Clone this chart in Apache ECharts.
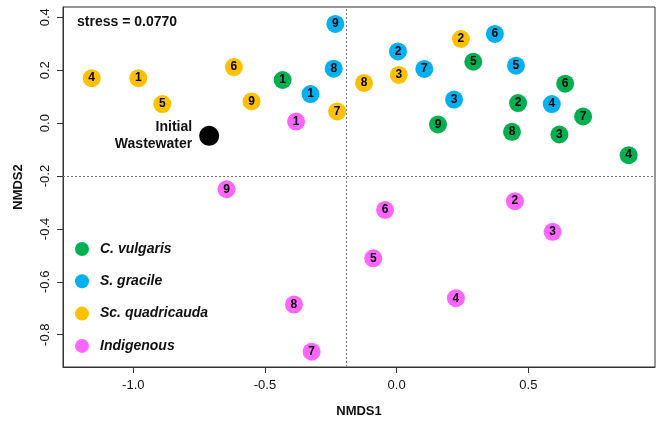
<!DOCTYPE html>
<html>
<head>
<meta charset="utf-8">
<script src="https://cdn.jsdelivr.net/npm/echarts@6/dist/echarts.min.js"></script>
<style>html,body{margin:0;padding:0;background:#fff;}#c{width:660px;height:421px;}</style>
</head>
<body>
<div id="c"></div>
<script>
const groupNames = ['C. vulgaris', 'S. gracile', 'Sc. quadricauda', 'Indigenous'];
const groupColors = ['#00B050', '#00B0F0', '#FFC000', '#FF66FF'];
const sampleLabels = ['1','2','3','4','5','6','7','8','9'];
const cvX = [-0.433, 0.461, 0.618, 0.881, 0.291, 0.640, 0.708, 0.438, 0.157];
const cvY = [0.163, 0.076, -0.043, -0.121, 0.232, 0.149, 0.025, -0.033, -0.005];
const sgX = [-0.327, 0.005, 0.218, 0.589, 0.453, 0.373, 0.105, -0.239, -0.233];
const sgY = [0.110, 0.271, 0.089, 0.072, 0.217, 0.337, 0.205, 0.206, 0.375];
const sqX = [-0.981, 0.244, 0.008, -1.158, -0.890, -0.618, -0.226, -0.124, -0.551];
const sqY = [0.170, 0.318, 0.182, 0.170, 0.072, 0.212, 0.044, 0.152, 0.082];
const inX = [-0.382, 0.449, 0.592, 0.225, -0.089, -0.044, -0.323, -0.390, -0.646];
const inY = [0.006, -0.295, -0.411, -0.662, -0.511, -0.328, -0.864, -0.686, -0.250];
const initialPoint = [-0.712, -0.048];
const refLineX = -0.188;
const refLineY = -0.197;
const xTicks = [-1.0, -0.5, 0.0, 0.5];
const yTicks = [-0.8, -0.6, -0.4, -0.2, 0.0, 0.2, 0.4];
const stressText = 'stress = 0.0770';

const groupXs = [cvX, sgX, sqX, inX];
const groupYs = [cvY, sgY, sqY, inY];
const FONT = '"Liberation Sans", Arial, sans-serif';

const series = groupNames.map((name, g) => ({
  name: name,
  type: 'scatter',
  symbol: 'circle',
  symbolSize: 18,
  itemStyle: { color: groupColors[g], opacity: 1 },
  label: {
    show: true, position: 'inside',
    formatter: p => p.value[2],
    color: '#000', fontWeight: 'bold', fontSize: 12, fontFamily: FONT
  },
  emphasis: { disabled: true },
  data: groupXs[g].map((x, i) => [x, groupYs[g][i], sampleLabels[i]]),
  z: 3
}));

series.push({
  name: 'Initial Wastewater',
  type: 'scatter',
  symbolSize: 20,
  itemStyle: { color: '#000', opacity: 1 },
  emphasis: { disabled: true },
  label: {
    show: true, position: 'left', distance: 7,
    formatter: 'Initial\nWastewater',
    color: '#111', fontWeight: 'bold', fontSize: 14, fontFamily: FONT,
    align: 'right', lineHeight: 17
  },
  data: [initialPoint],
  markLine: {
    silent: true, symbol: 'none', label: { show: false },
    lineStyle: { type: [2, 2], color: '#777', width: 1 },
    emphasis: { disabled: true },
    data: [{ xAxis: refLineX }, { yAxis: refLineY }]
  },
  z: 3
});

const chart = echarts.init(document.getElementById('c'), null, { renderer: 'canvas' });
chart.setOption({
  animation: false,
  textStyle: { fontFamily: FONT },
  grid: { left: 63, right: 5, top: 7, bottom: 54, outerBoundsMode: 'none', containLabel: false, show: true, borderColor: '#333', borderWidth: 1, backgroundColor: 'transparent' },
  xAxis: {
    type: 'value', min: -1.267, max: 0.981,
    name: 'NMDS1', nameLocation: 'middle', nameGap: 38,
    nameTextStyle: { fontWeight: 'bold', fontSize: 13, color: '#111', fontFamily: FONT },
    axisLine: { show: true, onZero: false, lineStyle: { color: '#333' } },
    axisTick: { show: true, length: 6, inside: false, customValues: xTicks, lineStyle: { color: '#333' } },
    axisLabel: { customValues: xTicks, formatter: v => v.toFixed(1), fontSize: 13, color: '#111', margin: 12, fontFamily: FONT },
    splitLine: { show: false }
  },
  yAxis: {
    type: 'value', min: -0.922, max: 0.439,
    name: 'NMDS2', nameLocation: 'middle', nameGap: 38, nameRotate: 90,
    nameTextStyle: { fontWeight: 'bold', fontSize: 13, color: '#111', fontFamily: FONT },
    axisLine: { show: true, onZero: false, lineStyle: { color: '#333' } },
    axisTick: { show: true, length: 6, inside: false, customValues: yTicks, lineStyle: { color: '#333' } },
    axisLabel: { customValues: yTicks, formatter: v => v.toFixed(1), rotate: 90, fontSize: 13, color: '#111', margin: 11, fontFamily: FONT },
    splitLine: { show: false }
  },
  legend: {
    data: groupNames,
    orient: 'vertical', left: 70, top: 237,
    itemWidth: 14, itemHeight: 14, itemGap: 18.3,
    icon: 'circle',
    textStyle: { fontStyle: 'italic', fontWeight: 'bold', fontSize: 14, color: '#111', fontFamily: FONT, padding: [0, 0, 0, 6] },
    selectedMode: false
  },
  graphic: [{
    type: 'text', left: 77, top: 15,
    style: { text: stressText, fontWeight: 'bold', fontSize: 14, fill: '#111', fontFamily: FONT }
  }],
  series: series
});
</script>
</body>
</html>
